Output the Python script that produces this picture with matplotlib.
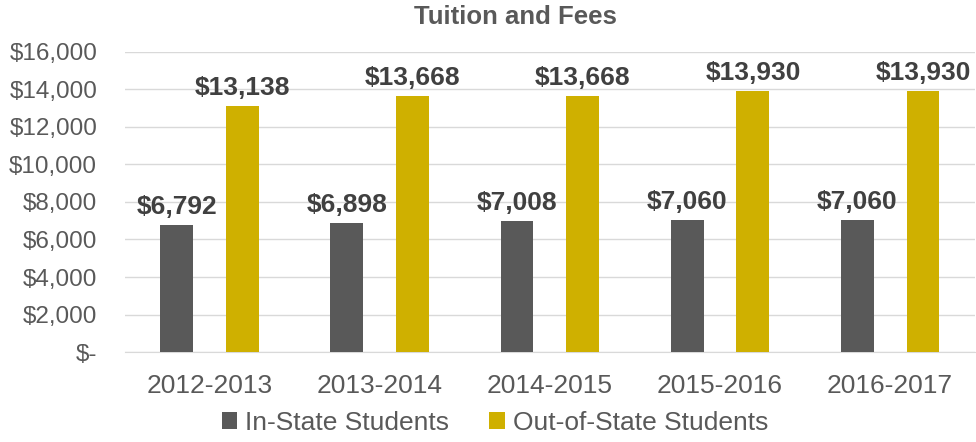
import matplotlib.pyplot as plt
import numpy as np

plt.rcParams['font.family'] = ['Liberation Sans', 'DejaVu Sans']

years = ['2012-2013', '2013-2014', '2014-2015', '2015-2016', '2016-2017']
in_state = [6792, 6898, 7008, 7060, 7060]
out_state = [13138, 13668, 13668, 13930, 13930]
y_ticks = [0, 2000, 4000, 6000, 8000, 10000, 12000, 14000, 16000]

grey = '#595959'
gold = '#CFB000'
txt = '#404040'

fig = plt.figure(figsize=(9.76, 4.42), dpi=100)
ax = fig.add_axes([0.128, 0.2036, 0.871, 0.6788])

x = np.arange(len(years))
w = 0.194
b1 = ax.bar(x - w, in_state, width=w, color=grey, label='In-State Students', zorder=3)
b2 = ax.bar(x + w, out_state, width=w, color=gold, label='Out-of-State Students', zorder=3)

# data labels above bars
for bars, vals in ((b1, in_state), (b2, out_state)):
    for r, v in zip(bars, vals):
        ax.annotate(f'${v:,}', (r.get_x() + r.get_width() / 2, v),
                    xytext=(0, 4), textcoords='offset points',
                    ha='center', va='bottom', fontsize=19, fontweight='bold', color=txt)

ax.set_xlim(-0.5, 4.5)
ax.set_ylim(0, 16000)
ax.set_yticks(y_ticks)
ax.set_yticklabels(['$-' if t == 0 else f'${t:,}' for t in y_ticks])
ax.set_xticks(x)
ax.set_xticklabels(years)
ax.tick_params(axis='y', length=0, pad=20, labelsize=17.5, labelcolor=grey)
ax.tick_params(axis='x', length=0, pad=16, labelsize=19, labelcolor=grey)
ax.grid(axis='y', color='#D9D9D9', linewidth=1, zorder=0)
for s in ['top', 'right', 'left']:
    ax.spines[s].set_visible(False)
ax.spines['bottom'].set_color('#D9D9D9')

fig.text(0.528, 0.962, 'Tuition and Fees', ha='center', va='center',
         fontsize=18.5, fontweight='bold', color=grey)

fig.legend(loc='center', bbox_to_anchor=(0.507, 0.043), ncol=2, frameon=False,
           fontsize=19, handlelength=0.6, handleheight=0.6, handletextpad=0.3,
           columnspacing=1.5, labelcolor=grey)

fig.savefig('out.png', dpi=100)
